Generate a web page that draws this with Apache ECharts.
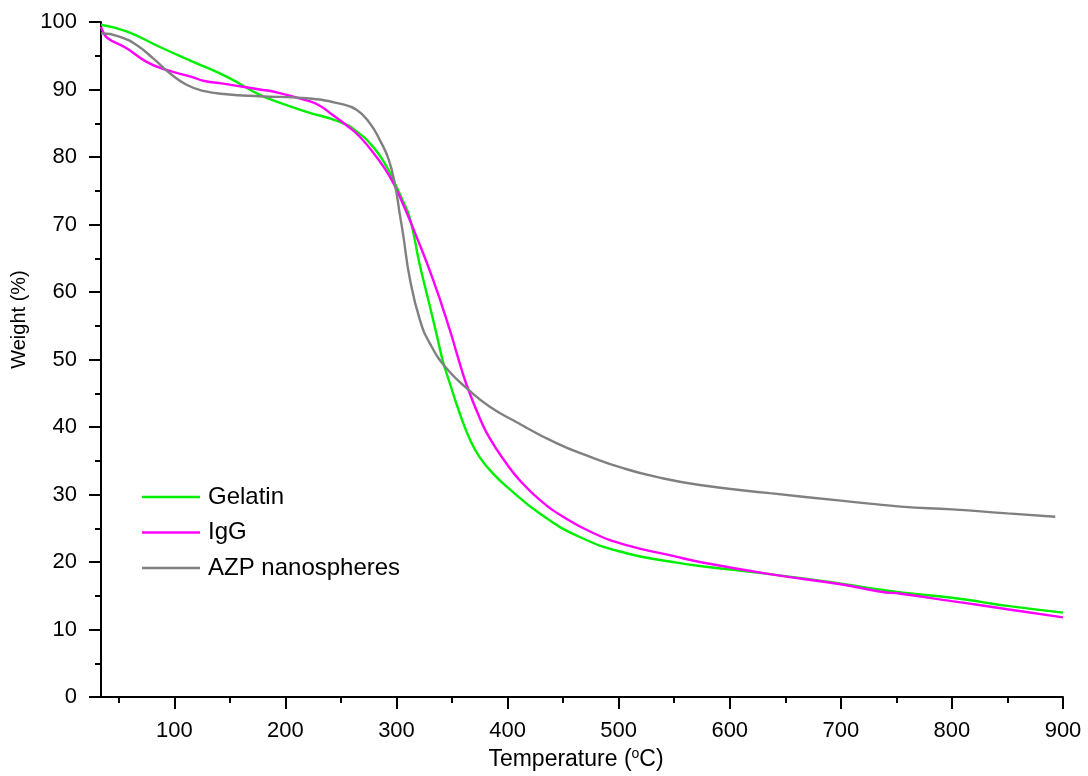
<!DOCTYPE html>
<html>
<head>
<meta charset="utf-8">
<script src="https://cdn.jsdelivr.net/npm/echarts@6/dist/echarts.min.js"></script>
<style>
html,body{margin:0;padding:0;background:#fff;}
#chart{width:1088px;height:776px;}
</style>
</head>
<body>
<div id="chart"></div>
<script>
// Gelatin
const gelatinT = [34, 57, 87, 117, 147, 177, 189, 219, 249, 264, 279, 291, 300, 306, 312, 321, 329, 336, 342, 347, 357, 366, 375, 387, 399, 429, 465, 507, 549, 573, 636, 700, 736, 754, 800, 826, 850, 900];
const gelatinW = [99.6, 98.6, 96.3, 94.1, 91.9, 89.2, 88.4, 86.7, 85.2, 83.8, 81.5, 78.6, 75.6, 73.4, 71.0, 64.0, 58.6, 53.8, 49.6, 47.0, 42.0, 38.2, 35.5, 33.1, 31.2, 27.2, 23.7, 21.3, 20.0, 19.4, 18.2, 16.8, 15.9, 15.5, 14.7, 14.1, 13.5, 12.5];
// IgG
const iggT = [34, 36, 40, 57, 75, 93, 117, 126, 147, 177, 189, 219, 231, 242, 255, 267, 282, 294, 303, 318, 333, 348, 355, 363, 375, 384, 399, 411, 429, 450, 477, 507, 549, 573, 636, 700, 736, 754, 800, 826, 850, 900];
const iggW = [99.3, 98.5, 97.6, 96.1, 94.1, 92.9, 91.8, 91.3, 90.8, 90.0, 89.7, 88.4, 87.6, 86.3, 84.7, 83.0, 80.0, 77.1, 74.1, 68.2, 61.8, 54.4, 50.5, 46.3, 41.3, 38.3, 34.6, 32.1, 29.2, 26.7, 24.3, 22.5, 20.9, 20.0, 18.2, 16.7, 15.6, 15.3, 14.2, 13.6, 13.0, 11.8];
// AZP nanospheres
const azpT = [34, 36, 51, 66, 81, 96, 111, 126, 147, 177, 219, 249, 264, 276, 285, 293, 299, 303, 306, 312, 321, 330, 345, 365, 384, 405, 444, 474, 504, 534, 573, 636, 700, 754, 800, 850, 893];
const azpW = [98.3, 98.3, 97.8, 96.6, 94.6, 92.4, 90.7, 89.8, 89.3, 89.0, 88.7, 87.9, 87.0, 85.0, 82.5, 79.6, 75.6, 71.5, 68.5, 62.0, 55.9, 52.4, 48.7, 45.5, 43.0, 41.0, 37.6, 35.6, 33.9, 32.6, 31.4, 30.2, 29.1, 28.2, 27.8, 27.2, 26.7];

const seriesNames = ['Gelatin', 'IgG', 'AZP nanospheres'];
const xMajorTicks = [100, 200, 300, 400, 500, 600, 700, 800, 900];
const xMinorTicks = [50, 150, 250, 350, 450, 550, 650, 750, 850];

const zip = (t, w) => t.map((v, i) => [v, w[i]]);
const FONT = '"Liberation Sans", Arial, sans-serif';

const chart = echarts.init(document.getElementById('chart'), null, {renderer: 'canvas'});
const axisLineStyle = {color: '#000', width: 2};

function lineSeries(name, data, color) {
  return {
    name: name, type: 'line', xAxisIndex: 0, yAxisIndex: 0, data: data,
    symbol: 'none', showSymbol: false, smooth: 0.5,
    lineStyle: {color: color, width: 2.4},
    itemStyle: {color: color}
  };
}

chart.setOption({
  animation: false,
  backgroundColor: '#fff',
  textStyle: {fontFamily: FONT},
  grid: {left: 101, right: 25, top: 22, bottom: 79, containLabel: false},
  legend: {
    orient: 'vertical',
    left: 142,
    top: 485,
    padding: 0,
    icon: 'rect',
    itemWidth: 58,
    itemHeight: 2.4,
    itemGap: 11.5,
    data: seriesNames,
    textStyle: {fontFamily: FONT, fontSize: 24, color: '#000', lineHeight: 24, padding: [0, 0, 0, 3]}
  },
  xAxis: [{
    type: 'value',
    min: 34,
    max: 900,
    position: 'bottom',
    name: 'Temperature ({sup|o}C)',
    nameLocation: 'middle',
    nameGap: 50,
    nameTextStyle: {
      fontFamily: FONT, fontSize: 23, color: '#000', padding: [0, 12, 0, 0],
      rich: {sup: {fontFamily: FONT, fontSize: 14, color: '#000', padding: [0, 0, 11, 0]}}
    },
    axisLine: {show: true, lineStyle: axisLineStyle},
    axisTick: {show: true, inside: false, length: 12, lineStyle: axisLineStyle, customValues: xMajorTicks},
    axisLabel: {show: true, fontFamily: FONT, fontSize: 22, color: '#000', margin: 23, customValues: xMajorTicks},
    splitLine: {show: false}
  }, {
    type: 'value',
    min: 34,
    max: 900,
    position: 'bottom',
    axisLine: {show: false},
    axisTick: {show: true, inside: false, length: 6, lineStyle: axisLineStyle, customValues: xMinorTicks},
    axisLabel: {show: false},
    splitLine: {show: false}
  }],
  yAxis: {
    type: 'value',
    min: 0,
    max: 100,
    interval: 10,
    name: 'Weight (%)',
    nameLocation: 'middle',
    nameGap: 61,
    nameTextStyle: {fontFamily: FONT, fontSize: 20, color: '#000', padding: [0, 0, 0, 80]},
    axisLine: {show: true, lineStyle: axisLineStyle},
    axisTick: {show: true, inside: false, length: 12, lineStyle: axisLineStyle},
    minorTick: {show: true, splitNumber: 2, length: 6, lineStyle: axisLineStyle},
    axisLabel: {fontFamily: FONT, fontSize: 22, color: '#000', margin: 24},
    splitLine: {show: false}
  },
  series: [
    lineSeries(seriesNames[0], zip(gelatinT, gelatinW), '#00f000'),
    lineSeries(seriesNames[1], zip(iggT, iggW), '#ff00ff'),
    lineSeries(seriesNames[2], zip(azpT, azpW), '#808080')
  ]
});
</script>
</body>
</html>
